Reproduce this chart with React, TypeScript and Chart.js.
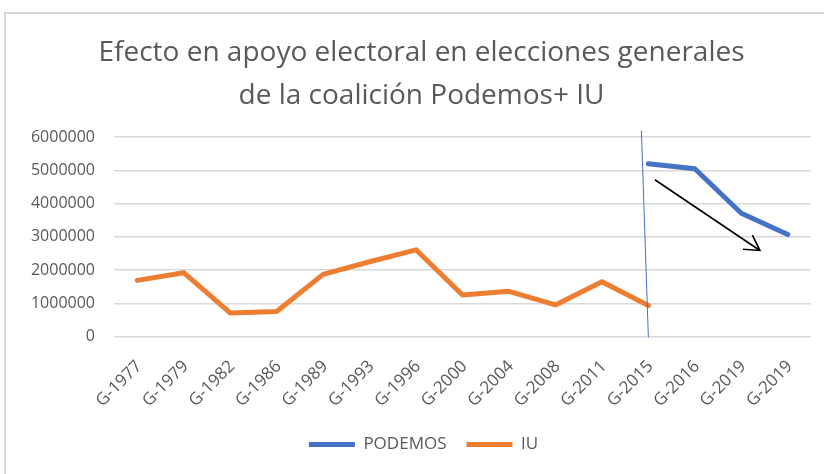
import React, { useEffect, useRef } from "react";
import { Chart, registerables } from "chart.js";

Chart.register(...registerables);

const titleLines = [
  "Efecto en apoyo electoral en elecciones generales",
  "de la coalición Podemos+ IU",
];
const categories = [
  "G-1977", "G-1979", "G-1982", "G-1986", "G-1989", "G-1993", "G-1996", "G-2000",
  "G-2004", "G-2008", "G-2011", "G-2015", "G-2016", "G-2019", "G-2019",
];
const podemosValues = [
  null, null, null, null, null, null, null, null, null, null, null,
  5200000, 5050000, 3710000, 3070000,
];
const iuValues = [
  1690000, 1920000, 710000, 750000, 1870000, 2250000, 2610000, 1250000,
  1360000, 950000, 1650000, 930000, null, null, null,
];
const yMin = 0;
const yMax = 6000000;
const yStep = 1000000;
// hand-drawn annotations (category index / value coordinates)
const separatorIdx = [10.85, 11.0];
const separatorVal = [6200000, -30000];
const arrowIdx = [11.14, 13.4];
const arrowVal = [4720000, 2590000];

const FONT = "'Open Sans', 'Noto Sans', sans-serif";
const TEXT = "#595959";

const annotationPlugin = {
  id: "handDrawn",
  afterLayout(chart: any) {
    if (chart.legend) {
      chart.legend.left += 13;
      chart.legend.right += 13;
    }
    if (chart.titleBlock) {
      chart.titleBlock.left += 11;
      chart.titleBlock.right += 11;
    }
  },
  afterDatasetsDraw(chart: any) {
    const { ctx } = chart;
    const xs = chart.scales.x;
    const ys = chart.scales.y;
    ctx.save();
    // separator line
    ctx.strokeStyle = "#4472C4";
    ctx.lineWidth = 1;
    ctx.beginPath();
    ctx.moveTo(xs.getPixelForValue(separatorIdx[0]), ys.getPixelForValue(separatorVal[0]));
    ctx.lineTo(xs.getPixelForValue(separatorIdx[1]), ys.getPixelForValue(separatorVal[1]));
    ctx.stroke();
    // arrow
    const x1 = xs.getPixelForValue(arrowIdx[0]);
    const y1 = ys.getPixelForValue(arrowVal[0]);
    const x2 = xs.getPixelForValue(arrowIdx[1]);
    const y2 = ys.getPixelForValue(arrowVal[1]);
    ctx.strokeStyle = "#000000";
    ctx.lineWidth = 1.6;
    ctx.beginPath();
    ctx.moveTo(x1, y1);
    ctx.lineTo(x2, y2);
    const ang = Math.atan2(y2 - y1, x2 - x1);
    const len = 17;
    const spread = (30 * Math.PI) / 180;
    ctx.moveTo(x2 - len * Math.cos(ang - spread), y2 - len * Math.sin(ang - spread));
    ctx.lineTo(x2, y2);
    ctx.lineTo(x2 - len * Math.cos(ang + spread), y2 - len * Math.sin(ang + spread));
    ctx.stroke();
    ctx.restore();
  },
};

export default function App() {
  const ref = useRef<HTMLCanvasElement | null>(null);
  useEffect(() => {
    if (!ref.current) return;
    const chart = new Chart(ref.current, {
      type: "line",
      data: {
        labels: categories,
        datasets: [
          {
            label: "PODEMOS",
            data: podemosValues,
            borderColor: "#4472C4",
            backgroundColor: "#4472C4",
            borderWidth: 5,
            pointRadius: 0,
            borderCapStyle: "round",
            borderJoinStyle: "round",
            spanGaps: false,
          },
          {
            label: "IU",
            data: iuValues,
            borderColor: "#ED7D31",
            backgroundColor: "#ED7D31",
            borderWidth: 5,
            pointRadius: 0,
            borderCapStyle: "round",
            borderJoinStyle: "round",
            spanGaps: false,
          },
        ],
      },
      options: {
        animation: false,
        responsive: false,
        maintainAspectRatio: false,
        layout: { padding: { left: 10, right: 13, top: 0, bottom: 11 } },
        plugins: {
          title: {
            display: true,
            text: titleLines,
            color: TEXT,
            font: { family: FONT, size: 28, weight: "normal", lineHeight: 1.54 },
            padding: { top: 31, bottom: 20 },
          },
          legend: {
            position: "bottom",
            labels: {
              color: TEXT,
              font: { family: FONT, size: 17 },
              boxWidth: 46,
              boxHeight: 5,
              padding: 20,
              generateLabels: (c: any) =>
                Chart.defaults.plugins.legend.labels.generateLabels(c).map((l: any) => ({
                  ...l,
                  lineWidth: 0,
                  fillStyle: l.strokeStyle,
                })),
            },
          },
          tooltip: { enabled: false },
        },
        scales: {
          x: {
            offset: true,
            grid: { display: false, drawTicks: false },
            border: { display: false },
            ticks: {
              color: TEXT,
              font: { family: FONT, size: 17 },
              minRotation: 45,
              maxRotation: 45,
              autoSkip: false,
              padding: 20,
              labelOffset: 2,
            },
            afterFit: (s: any) => {
              s.height -= 15;
            },
          },
          y: {
            min: yMin,
            max: yMax,
            grid: { color: "#d9d9d9", lineWidth: 1.5, drawTicks: false },
            border: { display: false },
            ticks: {
              stepSize: yStep,
              color: TEXT,
              font: { family: FONT, size: 16 },
              padding: 19,
              callback: (v: any) => String(v),
            },
            afterFit: (s: any) => {
              s.width = 104;
            },
          },
        },
      },
      plugins: [annotationPlugin],
    });
    return () => chart.destroy();
  }, []);
  return (
    <div style={{ position: "fixed", left: 0, top: 0, width: 824, height: 474, background: "#fff", overflow: "hidden" }}>
      <div
        style={{
          position: "absolute",
          left: 4,
          top: 12,
          width: 840,
          height: 480,
          borderLeft: "2px solid #d9d9d9",
          borderTop: "2px solid #d9d9d9",
        }}
      />
      <canvas ref={ref} width={824} height={474} style={{ position: "absolute", left: 0, top: 0 }} />
    </div>
  );
}
